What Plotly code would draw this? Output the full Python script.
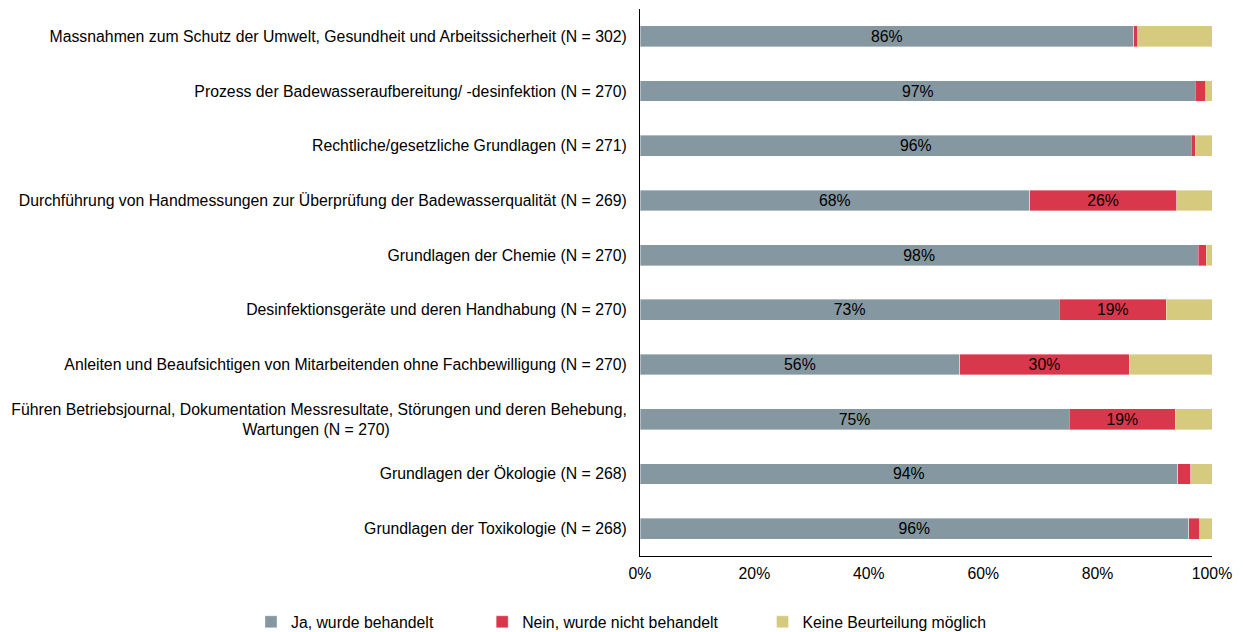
import plotly.graph_objects as go

NB = "\u00a0"

categories = [
    "Massnahmen zum Schutz der Umwelt, Gesundheit und Arbeitssicherheit (N = 302)",
    "Prozess der Badewasseraufbereitung/ -desinfektion (N = 270)",
    "Rechtliche/gesetzliche Grundlagen (N = 271)",
    "Durchführung von Handmessungen zur Überprüfung der Badewasserqualität (N = 269)",
    "Grundlagen der Chemie (N = 270)",
    "Desinfektionsgeräte und deren Handhabung (N = 270)",
    "Anleiten und Beaufsichtigen von Mitarbeitenden ohne Fachbewilligung (N = 270)",
    "Führen Betriebsjournal, Dokumentation Messresultate, Störungen und deren Behebung,<br>Wartungen (N = 270)" + NB * 54,
    "Grundlagen der Ökologie (N = 268)",
    "Grundlagen der Toxikologie (N = 268)",
]

ja = [86.3, 97.1, 96.4, 68.1, 97.6, 73.3, 55.9, 75.0, 94.0, 95.9]
nein = [0.75, 1.8, 0.7, 25.7, 1.4, 18.7, 29.6, 18.6, 2.3, 2.0]
keine = [12.95, 1.1, 2.9, 6.2, 1.0, 8.0, 14.5, 6.4, 3.7, 2.1]

series_names = ["Ja, wurde behandelt", "Nein, wurde nicht behandelt", "Keine Beurteilung möglich"]
legend_pad = [NB * 10, NB * 9, ""]
colors = ["#8598a1", "#d9384c", "#d6ca7f"]

x_tickvals = [0, 20, 40, 60, 80, 100]
x_ticktext = ["0%", "20%", "40%", "60%", "80%", "100%"]

FONT = "Liberation Sans, Arial, sans-serif"
FS = 15.8


def labels(vals):
    return [f"{round(v)}%" if v >= 15 else "" for v in vals]


fig = go.Figure()
for name, pad, vals, col in zip(series_names, legend_pad, [ja, nein, keine], colors):
    fig.add_trace(go.Bar(
        y=categories, x=vals, name=name + pad, orientation="h",
        marker=dict(color=col, line=dict(color="rgba(255,255,255,0.6)", width=0.6)),
        text=labels(vals), textposition="inside", insidetextanchor="middle",
        constraintext="none",
        textfont=dict(color="black", size=FS, family=FONT),
        width=0.38, hoverinfo="x+y",
    ))

W, H = 1235, 632
L, R, T, B = 632, 31, 1, 84
PW, PH = W - L - R, H - T - B
fig.update_layout(
    barmode="stack",
    width=W, height=H,
    margin=dict(l=L, r=R, t=T, b=B),
    paper_bgcolor="white", plot_bgcolor="white",
    font=dict(family=FONT, size=FS, color="black"),
    legend=dict(
        orientation="h", xref="paper", x=(243 - L) / PW, xanchor="left",
        yref="paper", y=-(614 - (H - B)) / PH, yanchor="middle",
        font=dict(size=FS), traceorder="normal",
    ),
    xaxis=dict(
        range=[0, 100], tickvals=x_tickvals, ticktext=x_ticktext,
        showgrid=False, zeroline=False, showline=True, linecolor="black",
        linewidth=1, ticks="", tickfont=dict(size=FS), ticklabelstandoff=3,
    ),
    yaxis=dict(
        categoryorder="array", categoryarray=categories[::-1],
        showgrid=False, showline=True, linecolor="black", linewidth=1,
        ticks="", ticklabelstandoff=9, tickfont=dict(size=FS),
    ),
)

fig.write_html("out.html")
